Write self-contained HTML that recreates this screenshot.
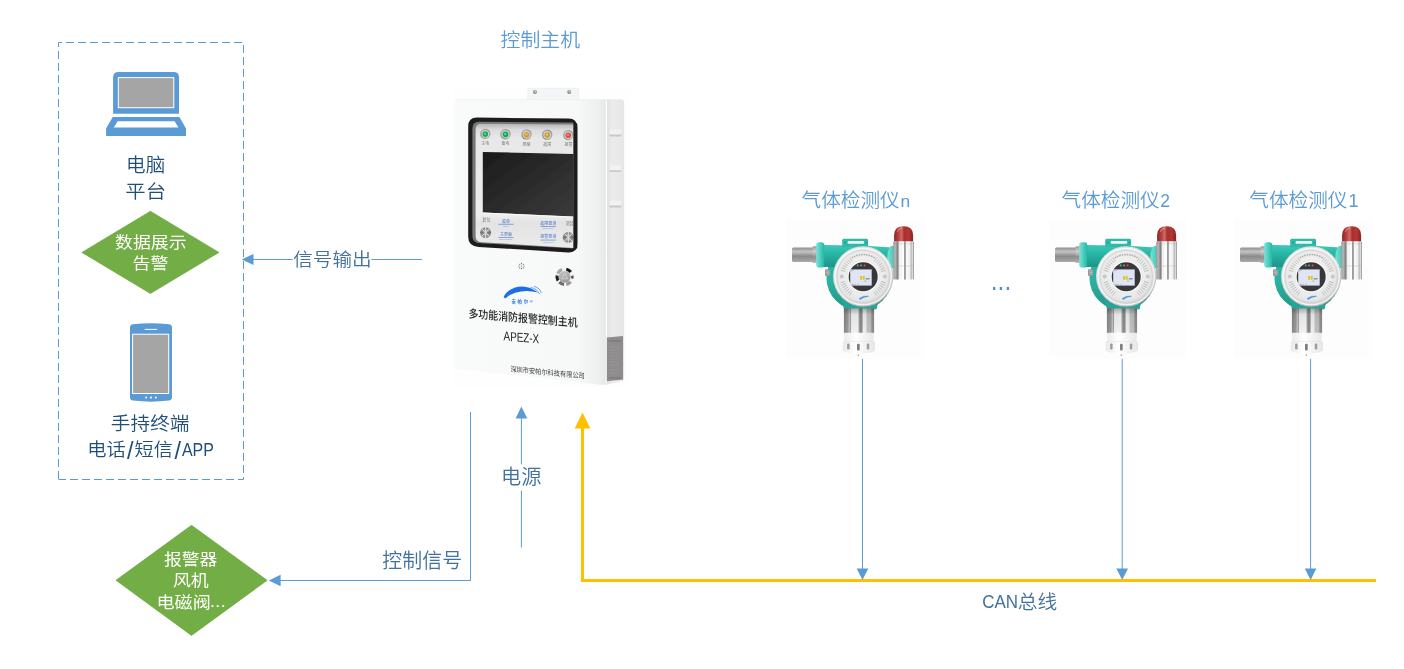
<!DOCTYPE html>
<html lang="zh-CN"><head><meta charset="utf-8"><title>CAN总线气体检测系统拓扑图</title>
<style>html,body{margin:0;padding:0;background:#fff;overflow:hidden}svg{display:block;font-family:"Liberation Sans", "Noto Sans CJK SC", sans-serif;will-change:transform}</style></head><body>
<svg width="1404" height="669" viewBox="0 0 1404 669">
<defs>
<filter id="soft" x="-5%" y="-5%" width="110%" height="110%"><feGaussianBlur stdDeviation="0.45"/></filter>
<filter id="soft2" x="-5%" y="-5%" width="110%" height="110%"><feGaussianBlur stdDeviation="0.4"/></filter>
<filter id="soft3" x="-5%" y="-5%" width="110%" height="110%"><feGaussianBlur stdDeviation="0.3"/></filter>
<linearGradient id="gPanel" x1="0" y1="123.6" x2="0" y2="248" gradientUnits="userSpaceOnUse"><stop offset="0" stop-color="#b4b4b4"/><stop offset="0.05" stop-color="#dcdcdc"/><stop offset="0.12" stop-color="#e8e8e8"/><stop offset="0.74" stop-color="#ececec"/><stop offset="0.8" stop-color="#e3e3e3"/><stop offset="1" stop-color="#ebebeb"/></linearGradient>
<linearGradient id="gLedRing" x1="0" y1="0" x2="1" y2="1"><stop offset="0" stop-color="#b4b4b4"/><stop offset="0.5" stop-color="#8a8a8a"/><stop offset="1" stop-color="#c4c4c4"/></linearGradient>
<linearGradient id="gBtnDisc" x1="0" y1="0" x2="0.4" y2="1"><stop offset="0" stop-color="#c6c6c6"/><stop offset="1" stop-color="#9c9c9c"/></linearGradient>
<linearGradient id="gBtnRing" x1="0" y1="0" x2="1" y2="1"><stop offset="0" stop-color="#f4f4f4"/><stop offset="0.35" stop-color="#bdbdbd"/><stop offset="0.6" stop-color="#efefef"/><stop offset="1" stop-color="#8c8c8c"/></linearGradient>
<linearGradient id="gProbe" x1="0" y1="0" x2="0" y2="1"><stop offset="0" stop-color="#8d8d8d"/><stop offset="0.3" stop-color="#c4c4c4"/><stop offset="0.6" stop-color="#8a8a8a"/><stop offset="1" stop-color="#a9a9a9"/></linearGradient>
<linearGradient id="gProbe2" x1="0" y1="0" x2="0" y2="1"><stop offset="0" stop-color="#9a9a9a"/><stop offset="0.3" stop-color="#cfcfcf"/><stop offset="0.65" stop-color="#8f8f8f"/><stop offset="1" stop-color="#b5b5b5"/></linearGradient>
<linearGradient id="gTealH" x1="0" y1="0" x2="0" y2="1"><stop offset="0" stop-color="#3ccab9"/><stop offset="0.45" stop-color="#27b3a3"/><stop offset="1" stop-color="#1c9588"/></linearGradient>
<linearGradient id="gTealV" x1="0" y1="0" x2="0.3" y2="1"><stop offset="0" stop-color="#2aae9e"/><stop offset="0.5" stop-color="#2cb3a3"/><stop offset="1" stop-color="#1f9487"/></linearGradient>
<linearGradient id="gFl" x1="0" y1="0" x2="1" y2="0"><stop offset="0" stop-color="#7be3d6"/><stop offset="0.5" stop-color="#4dd0c0"/><stop offset="1" stop-color="#2bb3a3"/></linearGradient>
<linearGradient id="gSteel" x1="0" y1="0" x2="1" y2="0"><stop offset="0" stop-color="#9c9c9c"/><stop offset="0.1" stop-color="#b6b6b6"/><stop offset="0.22" stop-color="#7e7e7e"/><stop offset="0.3" stop-color="#f0f0f0"/><stop offset="0.5" stop-color="#ffffff"/><stop offset="0.56" stop-color="#747474"/><stop offset="0.64" stop-color="#f8f8f8"/><stop offset="0.8" stop-color="#f0f0f0"/><stop offset="0.86" stop-color="#b8b8b8"/><stop offset="0.93" stop-color="#dadada"/><stop offset="1" stop-color="#8a8a8a"/></linearGradient>
<linearGradient id="gSteel2" x1="0" y1="0" x2="1" y2="0"><stop offset="0" stop-color="#858585"/><stop offset="0.13" stop-color="#9a9a9a"/><stop offset="0.19" stop-color="#c4c4c4"/><stop offset="0.21" stop-color="#8c8c8c"/><stop offset="0.25" stop-color="#eeeeee"/><stop offset="0.46" stop-color="#f2f2f2"/><stop offset="0.53" stop-color="#888888"/><stop offset="0.6" stop-color="#8e8e8e"/><stop offset="0.64" stop-color="#f0f0f0"/><stop offset="0.72" stop-color="#eaeaea"/><stop offset="0.78" stop-color="#c0c0c0"/><stop offset="0.88" stop-color="#bcbcbc"/><stop offset="0.93" stop-color="#8f8f8f"/><stop offset="1" stop-color="#8a8a8a"/></linearGradient>
<linearGradient id="gShade" x1="0" y1="0" x2="0" y2="1"><stop offset="0" stop-color="#000" stop-opacity="0.28"/><stop offset="0.25" stop-color="#000" stop-opacity="0.05"/><stop offset="1" stop-color="#000" stop-opacity="0"/></linearGradient>
<linearGradient id="gRed" x1="0" y1="0" x2="1" y2="0"><stop offset="0" stop-color="#8e2626"/><stop offset="0.2" stop-color="#b43a38"/><stop offset="0.4" stop-color="#cf6a65"/><stop offset="0.53" stop-color="#a52f2f"/><stop offset="0.75" stop-color="#b53635"/><stop offset="1" stop-color="#8a2222"/></linearGradient>
<linearGradient id="gWhite" x1="0" y1="0" x2="1" y2="0"><stop offset="0" stop-color="#e9e9e9"/><stop offset="0.4" stop-color="#ffffff"/><stop offset="1" stop-color="#e6e6e6"/></linearGradient>
<radialGradient id="gFace" cx="0.48" cy="0.46" r="0.54"><stop offset="0" stop-color="#f6f6f6"/><stop offset="0.6" stop-color="#ededed"/><stop offset="0.8" stop-color="#e6e6e6"/><stop offset="0.9" stop-color="#d6d6d6"/><stop offset="0.97" stop-color="#c4c4c4"/><stop offset="1" stop-color="#b0b0b0"/></radialGradient>
<linearGradient id="gFront" x1="0" y1="0" x2="1" y2="0"><stop offset="0" stop-color="#f9fbfb"/><stop offset="0.8" stop-color="#f7f9f9"/><stop offset="0.93" stop-color="#eff1f1"/><stop offset="0.985" stop-color="#e7e8e8"/><stop offset="1" stop-color="#f4f4f4"/></linearGradient>
<linearGradient id="gSide" x1="0" y1="0" x2="1" y2="0"><stop offset="0" stop-color="#e4e4e4"/><stop offset="0.4" stop-color="#ebebeb"/><stop offset="1" stop-color="#e6e6e6"/></linearGradient>
<linearGradient id="gLcd" x1="0" y1="0" x2="1" y2="1"><stop offset="0" stop-color="#1b1b1b"/><stop offset="0.5" stop-color="#2b2b2b"/><stop offset="1" stop-color="#3b3b3b"/></linearGradient>
<radialGradient id="gKnob" cx="0.5" cy="0.5" r="0.5"><stop offset="0" stop-color="#cfcfcf"/><stop offset="0.5" stop-color="#9a9a9a"/><stop offset="0.85" stop-color="#8a8a8a"/><stop offset="1" stop-color="#bdbdbd"/></radialGradient>
<radialGradient id="gBtn" cx="0.5" cy="0.5" r="0.5"><stop offset="0" stop-color="#d0d0d0"/><stop offset="0.5" stop-color="#a8a8a8"/><stop offset="0.62" stop-color="#3c3c3c"/><stop offset="0.8" stop-color="#e6e6e6"/><stop offset="1" stop-color="#9a9a9a"/></radialGradient>
</defs>
<rect width="1404" height="669" fill="#ffffff"/>
<path d="M58.5 42.5H243.5V479.5H58.5" fill="none" stroke="#5B9BD5" stroke-width="1" stroke-dasharray="8 4" stroke-dashoffset="4.5"/>
<path d="M58.5 42.5V479.5" fill="none" stroke="#5B9BD5" stroke-width="1" stroke-dasharray="8 4" stroke-dashoffset="3.5"/>
<path d="M113.1 113.8V77.4Q113.1 72 118.5 72H173.6Q179 72 179 77.4V113.8Z" fill="#5B9BD5"/>
<rect x="117.8" y="77.1" width="56.5" height="31.1" fill="#ffffff"/>
<rect x="118.8" y="78.1" width="54.5" height="29.1" fill="#A5A5A5"/>
<path d="M112.7 117.1H179.4L186 128.4V135.9H106.1V128.4Z" fill="#5B9BD5"/>
<path d="M117.7 121.3H174.6L178.4 127.6H113.7Z" fill="#ffffff"/>
<path d="M81.9 252.4L150.4 211.3L218.9 252.4L150.4 293.5Z" fill="#72AE45" stroke="#69A63D" stroke-width="0.7" stroke-linejoin="miter"/>
<path d="M116 580.3L191.5 525.3L267.1 580.3L191.5 635.4Z" fill="#72AE45" stroke="#69A63D" stroke-width="0.7" stroke-linejoin="miter"/>
<path d="M130 327.5Q130 324.6 133 324.3Q151 322 169 324.3Q172 324.6 172 327.5V397.3Q172 400.2 169 400.5Q151 402.8 133 400.5Q130 400.2 130 397.3Z" fill="#5B9BD5"/>
<rect x="132.1" y="333.7" width="37.1" height="60.3" fill="#ffffff"/>
<rect x="133.1" y="334.7" width="35.1" height="58.3" fill="#A5A5A5"/>
<rect x="144.7" y="328.9" width="12.4" height="1" fill="#ffffff"/>
<circle cx="146.1" cy="397.5" r="1" fill="#ffffff"/>
<circle cx="151" cy="397.5" r="1" fill="#ffffff"/>
<circle cx="155.8" cy="397.5" r="1" fill="#ffffff"/>
<path d="M253 259.5H292.7M371.5 259.5H422" stroke="#5B9BD5" stroke-width="1" fill="none"/>
<path d="M241.7 259.5L253.5 253.9V265.1Z" fill="#5B9BD5"/>
<path d="M470.5 412V580.5H280" stroke="#5B9BD5" stroke-width="1" fill="none"/>
<path d="M268.8 580.5L280.6 574.8V586.2Z" fill="#5B9BD5"/>
<path d="M521.4 418V464.4M521.4 490.5V547.6" stroke="#5B9BD5" stroke-width="1" fill="none"/>
<path d="M521.4 406.6L527.3 418.4H515.6Z" fill="#5B9BD5"/>
<path d="M582.5 428V580.4H1376" stroke="#FFC000" stroke-width="3" fill="none"/>
<path d="M582.5 412.6L590.4 428.4H574.7Z" fill="#FFC000"/>
<path d="M862.5 358.8V569" stroke="#5B9BD5" stroke-width="1" fill="none"/>
<path d="M862.5 580L856.7 568.4H868.3Z" fill="#5B9BD5"/>
<path d="M1122.2 358.8V569" stroke="#5B9BD5" stroke-width="1" fill="none"/>
<path d="M1122.2 580L1116.4 568.4H1128.0Z" fill="#5B9BD5"/>
<path d="M1310.6 358.8V569" stroke="#5B9BD5" stroke-width="1" fill="none"/>
<path d="M1310.6 580L1304.8 568.4H1316.3999999999999Z" fill="#5B9BD5"/>
<rect x="452.5" y="87" width="178" height="300" fill="#FEFEFE"/>
<g filter="url(#soft2)">
<path d="M527.8 99.6V89.6Q527.8 88.3 529.2 88.3H577.2Q578.6 88.3 578.6 89.6V99.6Z" fill="#F3F5F6" stroke="#E3E5E6" stroke-width="0.5"/>
<circle cx="535" cy="91.9" r="2" fill="#8d8d8d"/><circle cx="535.4" cy="91.5" r="0.9" fill="#d8d8d8"/>
<circle cx="569.2" cy="91.9" r="2" fill="#8d8d8d"/><circle cx="569.6" cy="91.5" r="0.9" fill="#d8d8d8"/>
<path d="M606 99.4H621.5Q624.2 99.4 624.2 102V378.6Q624.2 381 621.6 381.3L606 384.8Z" fill="url(#gSide)"/>
<path d="M457 99.4H604Q607 99.4 607 102.4V381Q607 385.4 602.5 385L457.5 369Q454.4 368.6 454.4 365.6V102.4Q454.4 99.4 457 99.4Z" fill="url(#gFront)"/>
<path d="M606.6 101V382" stroke="#ffffff" stroke-width="1"/>
<path d="M608 100.5V383" stroke="#dedede" stroke-width="0.8"/>
<path d="M457 99.6H622" stroke="#eeeeee" stroke-width="0.7"/>
<rect x="609.3" y="130.8" width="12" height="5.6" rx="1.2" fill="#c9c9c9"/>
<path d="M610.6 129.8H620Q621.3 129.8 621.3 131.2V134.6H609.3V131.2Z" fill="#f2f2f2"/>
<rect x="609.3" y="166.4" width="12" height="5.6" rx="1.2" fill="#c9c9c9"/>
<path d="M610.6 165.4H620Q621.3 165.4 621.3 166.79999999999998V170.2H609.3V166.79999999999998Z" fill="#f2f2f2"/>
<rect x="609.3" y="201.8" width="12" height="5.6" rx="1.2" fill="#c9c9c9"/>
<path d="M610.6 200.8H620Q621.3 200.8 621.3 202.2V205.6H609.3V202.2Z" fill="#f2f2f2"/>
<path d="M606.8 337.4L623 336V379.6L606.8 381.2Z" fill="#8f8c8d"/>
<path d="M608.6 341H621.4M608.6 378H621.4" stroke="#6f6c6d" stroke-width="0.8"/>
<path d="M609.5 347H620M609.5 350H620M609.5 353H618M609.5 356H620M609.5 359H617M609.5 362H620M609.5 365H619M609.5 370H620M609.5 373H618" stroke="#a09d9e" stroke-width="0.6" opacity="0.8"/>
<path d="M468.2 126.5Q468.2 117.5 477.2 117.6L568.4 118.6Q577.3 118.7 577.3 127.6V243.8Q577.3 253 568.2 252.4L478.6 246.9Q468.2 246.3 468.2 236.8Z" fill="#1b1b1b"/>
<path d="M472.4 128.2Q472.4 121.6 479 121.7L573.6 122.6V248.6L480 243.2Q472.4 242.8 472.4 236.4Z" fill="#777777"/>
<path d="M475.6 129.4Q475.6 123.6 481.4 123.7L573.6 124.6V248L481.6 242.2Q475.6 241.8 475.6 236Z" fill="url(#gPanel)"/>
<path d="M482.8 151.9L573.6 154V216.6L482.8 212.4Z" fill="url(#gLcd)"/>
<path d="M482.8 213L573.6 217.2" stroke="#fafafa" stroke-width="1"/>
<circle cx="485.3" cy="133.9" r="5.2" fill="url(#gLedRing)"/>
<circle cx="485.3" cy="133.9" r="3.9" fill="#d2d2d2"/>
<circle cx="485.3" cy="134.1" r="2.8" fill="#12a856"/>
<circle cx="485.0" cy="133.70000000000002" r="1.3" fill="#3fe08a"/>
<circle cx="505.5" cy="134.2" r="5.2" fill="url(#gLedRing)"/>
<circle cx="505.5" cy="134.2" r="3.9" fill="#d2d2d2"/>
<circle cx="505.5" cy="134.39999999999998" r="2.8" fill="#12a856"/>
<circle cx="505.2" cy="134.0" r="1.3" fill="#3fe08a"/>
<circle cx="526.5" cy="134.5" r="5.2" fill="url(#gLedRing)"/>
<circle cx="526.5" cy="134.5" r="3.9" fill="#d2d2d2"/>
<circle cx="526.5" cy="134.7" r="2.8" fill="#cf9a2c"/>
<circle cx="526.2" cy="134.3" r="1.3" fill="#e8c25a"/>
<circle cx="547.2" cy="134.8" r="5.2" fill="url(#gLedRing)"/>
<circle cx="547.2" cy="134.8" r="3.9" fill="#d2d2d2"/>
<circle cx="547.2" cy="135.0" r="2.8" fill="#cf9a2c"/>
<circle cx="546.9000000000001" cy="134.60000000000002" r="1.3" fill="#e8c25a"/>
<circle cx="568.3" cy="135.1" r="5.2" fill="url(#gLedRing)"/>
<circle cx="568.3" cy="135.1" r="3.9" fill="#d2d2d2"/>
<circle cx="568.3" cy="135.29999999999998" r="2.8" fill="#e04a47"/>
<circle cx="568.0" cy="134.9" r="1.3" fill="#f07a74"/>
<circle cx="485.6" cy="232.6" r="6.4" fill="#e9e9e9"/>
<circle cx="485.6" cy="232.6" r="5.7" fill="url(#gKnob)"/>
<path d="M481.6 228.6L489.6 236.6M489.6 228.6L481.6 236.6M485.6 227.2V238.0" stroke="#f4f4f4" stroke-width="1" opacity="0.8"/>
<path d="M480.20000000000005 232.6H491.0" stroke="#555" stroke-width="1.6" opacity="0.55"/>
<circle cx="485.6" cy="232.6" r="1.2" fill="#dcdcdc"/>
<circle cx="568.3" cy="237.4" r="6.4" fill="#e9e9e9"/>
<circle cx="568.3" cy="237.4" r="5.7" fill="url(#gKnob)"/>
<path d="M564.3 233.4L572.3 241.4M572.3 233.4L564.3 241.4M568.3 232.0V242.8" stroke="#f4f4f4" stroke-width="1" opacity="0.8"/>
<path d="M562.9 237.4H573.6999999999999" stroke="#555" stroke-width="1.6" opacity="0.55"/>
<circle cx="568.3" cy="237.4" r="1.2" fill="#dcdcdc"/>
<path d="M498.5 224.3H513.6M498.5 237.5H513.6M540.6 226.5H555.8M540.6 240.1H555.8" stroke="#4a76c4" stroke-width="0.6"/>
<circle cx="521.5" cy="266.1" r="0.65" fill="#777777"/>
<circle cx="521.5" cy="263.5" r="0.65" fill="#777777"/>
<circle cx="521.5" cy="268.7" r="0.65" fill="#777777"/>
<circle cx="518.9" cy="266.1" r="0.65" fill="#777777"/>
<circle cx="524.1" cy="266.1" r="0.65" fill="#777777"/>
<circle cx="519.7" cy="264.3" r="0.65" fill="#777777"/>
<circle cx="523.3" cy="264.3" r="0.65" fill="#777777"/>
<circle cx="519.7" cy="267.9" r="0.65" fill="#777777"/>
<circle cx="523.3" cy="267.9" r="0.65" fill="#777777"/>
<circle cx="564.7" cy="276.8" r="9.3" fill="#f3f3f3"/>
<path d="M566.30 269.27A7.7 7.7 0 0 1 570.77 272.06" stroke="#141414" stroke-width="3.2" fill="none" opacity="1"/>
<path d="M572.33 275.73A7.7 7.7 0 0 1 572.23 278.40" stroke="#4a4a4a" stroke-width="2.4" fill="none" opacity="1"/>
<path d="M558.03 280.65A7.7 7.7 0 0 1 557.12 275.46" stroke="#242424" stroke-width="3.2" fill="none" opacity="1"/>
<path d="M564.03 284.47A7.7 7.7 0 0 1 559.26 282.24" stroke="#6e6e6e" stroke-width="3.2" fill="none" opacity="1"/>
<path d="M570.60 281.75A7.7 7.7 0 0 1 566.30 284.33" stroke="#9a9a9a" stroke-width="3.2" fill="none" opacity="1"/>
<path d="M557.72 273.55A7.7 7.7 0 0 1 562.07 269.56" stroke="#a6a6a6" stroke-width="3.2" fill="none" opacity="1"/>
<circle cx="564.7" cy="276.8" r="5.9" fill="url(#gBtnDisc)"/>
<path d="M564.7 273.40000000000003L567.7 278.8H561.7Z" fill="none" stroke="#d9d9d9" stroke-width="0.8"/>
<path d="M503.6 297.2Q506.5 290.6 515 287.6Q527 283.8 538 292.6Q526 289.6 516 292.6Q509 294.8 505.4 298.4Z" fill="#1f6fe6"/>
<path d="M530.6 287.4Q537.4 288.8 539.4 294M534 286.2Q540.4 288.2 541.2 293" stroke="#3f86ee" stroke-width="0.8" fill="none"/>
</g>
<g filter="url(#soft3)">
<text x="485.3" y="145.1" font-size="4" text-anchor="middle" fill="#7d7d7d">主电</text>
<text x="505.5" y="145.4" font-size="4" text-anchor="middle" fill="#7d7d7d">备电</text>
<text x="526.5" y="145.7" font-size="4" text-anchor="middle" fill="#7d7d7d">屏蔽</text>
<text x="547.2" y="146.0" font-size="4" text-anchor="middle" fill="#7d7d7d">故障</text>
<text x="564.6" y="146.4" font-size="4" fill="#7d7d7d">报警</text>
<text x="486.4" y="220.8" font-size="4.2" text-anchor="middle" fill="#7d7d7d">复位</text>
<text x="565.4" y="225.3" font-size="4.2" fill="#7d7d7d">消音</text>
<text x="505.9" y="222.6" font-size="4" text-anchor="middle" fill="#4a76c4">菜单</text>
<text x="505.9" y="235.8" font-size="4" text-anchor="middle" fill="#4a76c4">主界面</text>
<text x="548.2" y="224.9" font-size="4" text-anchor="middle" fill="#4a76c4">故障查询</text>
<text x="548.2" y="238.4" font-size="4" text-anchor="middle" fill="#4a76c4">报警查询</text>
<g font-size="2.2" fill="#6f8fc8" text-anchor="middle"><text x="505.9" y="227.2">Menu</text><text x="505.9" y="240.4">Main interface</text><text x="548.2" y="229.4">Fault query</text><text x="548.2" y="243">Alarm query</text></g>
<text x="511.4" y="303.1" font-size="4.4" fill="#2a76e8" font-weight="700" textLength="21.6" lengthAdjust="spacing">安帕尔®</text>
</g>
<path d="M573.5 121V250.4L577.3 248V124Z" fill="#1b1b1b" filter="url(#soft2)"/>
<g filter="url(#soft3)" fill="#262626" font-weight="500">
<text id="t_dev1" transform="translate(468.4,317.4) skewY(4.9)" font-size="11.3" textLength="109.2" lengthAdjust="spacingAndGlyphs">多功能消防报警控制主机</text>
<text id="t_dev2" transform="translate(503.6,340.3) skewY(5)" font-size="13" textLength="35.6" lengthAdjust="spacingAndGlyphs">APEZ-X</text>
<text id="t_dev3" transform="translate(510.4,371.4) skewY(5.5)" font-size="7.2" fill="#3a3a3a" font-weight="400" textLength="74.4" lengthAdjust="spacingAndGlyphs">深圳市安帕尔科技有限公司</text>
</g>
<g transform="translate(0,0)">
<rect x="786" y="218.5" width="137.5" height="140" fill="#FDFDFD"/>
<g filter="url(#soft)">
<rect x="792" y="247.4" width="22.5" height="14.6" rx="1.5" fill="url(#gProbe)"/>
<rect x="812.6" y="246.3" width="5" height="16.6" fill="url(#gProbe2)"/>
<circle cx="859.2" cy="277.6" r="32.8" fill="url(#gTealV)"/>
<path d="M841.2 298H878.6L876.6 309.2H844Z" fill="#26a596"/>
<path d="M822 245 L860 245.6 L893 247.6 L893 266 L822 267 Z" fill="url(#gTealH)"/>
<path d="M842.2 247 V240.3 Q842.2 238.8 843.7 238.8 H866.6 Q868.1 238.8 868.1 240.3 V247 Z" fill="#2db9a8"/>
<rect x="847.6" y="241" width="16.6" height="2.7" rx="1.2" fill="#eef8f6"/>
<circle cx="845" cy="242.4" r="0.7" fill="#1a7f74"/><circle cx="866.2" cy="242.6" r="0.7" fill="#1a7f74"/>
<rect x="816.2" y="242.2" width="8" height="25.4" rx="2.8" fill="url(#gFl)"/>
<ellipse cx="892.4" cy="257.2" rx="5.1" ry="11.4" fill="url(#gFl)"/>
<rect x="825" y="269.4" width="5.2" height="6.4" fill="#8f9a98"/>
<path d="M826 271H829.4M826 272.6H829.4M826 274.2H829.4" stroke="#c9d2d0" stroke-width="0.6"/>
<rect x="893.2" y="241.2" width="20.8" height="38.2" rx="1" fill="url(#gSteel)"/>
<path d="M893.6 243.8H914M893.6 266H914" stroke="#9a9a9a" stroke-width="0.5" opacity="0.6"/>
<path d="M894.1 241.2 V235 Q894.1 226.2 903.6 226.2 Q913.1 226.2 913.1 235 V241.2 Z" fill="url(#gRed)"/>
<path d="M897.4 231.4Q898.6 228.6 901.6 228" stroke="#f3a9a4" stroke-width="1" fill="none" stroke-linecap="round" opacity="0.8"/>
<rect x="843.9" y="308.6" width="30.2" height="24.5" fill="url(#gSteel2)"/>
<rect x="843.9" y="308.6" width="30.2" height="24.5" fill="url(#gShade)"/>
<path d="M844.2 332.8 H873.6 V341 L875 342 V350.4 Q870 353.6 858.9 353.6 Q847.4 353.6 842.7 350.4 V342 L844.2 341 Z" fill="url(#gWhite)"/>
<path d="M843.4 341.6H874.4" stroke="#e2e2e2" stroke-width="0.6"/>
<rect x="847.1" y="343.4" width="2.5" height="6.2" rx="1" fill="#9c9c9c"/>
<rect x="857" y="343.8" width="2.7" height="6.8" rx="1" fill="#7e7e7e"/>
<rect x="866.8" y="343.4" width="2.5" height="6.2" rx="1" fill="#9c9c9c"/>
<circle cx="858.4" cy="355.2" r="0.9" fill="#b5b5b5"/>
<circle cx="863.2" cy="276.5" r="30.2" fill="url(#gFace)"/>
<circle cx="863.2" cy="276.5" r="28.2" fill="none" stroke="#ffffff" stroke-width="1.3" opacity="0.75"/>
<circle cx="863.2" cy="276.5" r="26.2" fill="none" stroke="#cfcfcf" stroke-width="0.8"/>
<path d="M881.1 281.5L885.6 282.7M880.4 283.5L884.7 285.2M879.5 285.4L883.6 287.6M878.4 287.2L882.2 289.8M877.1 288.8L880.6 291.9M875.6 290.3L878.7 293.7M874.0 291.6L876.7 295.4M852.4 291.6L849.7 295.4M850.8 290.3L847.7 293.7M849.3 288.8L845.8 291.9M848.0 287.2L844.2 289.8M846.9 285.4L842.8 287.6M846.0 283.5L841.7 285.2M845.3 281.5L840.8 282.7M845.3 271.5L840.8 270.3M846.0 269.5L841.7 267.8M846.9 267.6L842.8 265.4M848.0 265.8L844.2 263.2M849.3 264.2L845.8 261.1M850.8 262.7L847.7 259.3M852.4 261.4L849.7 257.6M874.0 261.4L876.7 257.6M875.6 262.7L878.7 259.3M877.1 264.2L880.6 261.1M878.4 265.8L882.2 263.2M879.5 267.6L883.6 265.4M880.4 269.5L884.7 267.8M881.1 271.5L885.6 270.3" stroke="#8f8f8f" stroke-width="0.9" opacity="0.55"/>
<path d="M851.7 257.9A21.8 21.8 0 0 1 874.7 257.9" stroke="#6f6f6f" stroke-width="1.5" stroke-dasharray="1.6 0.9" fill="none" opacity="0.5"/>
<circle cx="841.8000000000001" cy="276.5" r="1.5" fill="#d4d4d4" stroke="#9f9f9f" stroke-width="0.5"/>
<circle cx="884.8000000000001" cy="276.5" r="1.5" fill="#d4d4d4" stroke="#9f9f9f" stroke-width="0.5"/>
<circle cx="863.2" cy="276.7" r="16.4" fill="#fafafa" stroke="#dadada" stroke-width="0.5"/>
<circle cx="863.2" cy="276.8" r="14.5" fill="#37373a"/>
<rect x="850.2" y="269.4" width="21.5" height="16.2" fill="#dfe5f5"/>
<path d="M850.8 270.6H854M851 284.4H856M857.4 284.4H859" stroke="#9aa3b8" stroke-width="0.6"/>
<rect x="860" y="275.8" width="2.1" height="4" rx="0.9" fill="#e3c62a"/><rect x="862.7" y="275.8" width="2.1" height="4" rx="0.9" fill="#e3c62a"/>
<rect x="865.8" y="278" width="3.8" height="1.5" fill="#8d93a1"/>
<rect x="864" y="280.6" width="2.4" height="1" fill="#8fd19a"/>
<circle cx="857.7" cy="265.4" r="1.05" fill="#1fc36a"/>
<circle cx="861.1" cy="265.4" r="0.9" fill="#a5a5a5"/>
<circle cx="864.6" cy="265.4" r="1.05" fill="#e8403a"/>
<path d="M859.2 298.6 Q863 295.4 868.4 296.2 Q863.6 296.8 860.2 299.4Z" fill="#4a96e6" stroke="#4a96e6" stroke-width="0.7" stroke-linejoin="round"/>
</g></g>
<g transform="translate(263,0)">
<rect x="786" y="218.5" width="137.5" height="140" fill="#FDFDFD"/>
<g filter="url(#soft)">
<rect x="792" y="247.4" width="22.5" height="14.6" rx="1.5" fill="url(#gProbe)"/>
<rect x="812.6" y="246.3" width="5" height="16.6" fill="url(#gProbe2)"/>
<circle cx="859.2" cy="277.6" r="32.8" fill="url(#gTealV)"/>
<path d="M841.2 298H878.6L876.6 309.2H844Z" fill="#26a596"/>
<path d="M822 245 L860 245.6 L893 247.6 L893 266 L822 267 Z" fill="url(#gTealH)"/>
<path d="M842.2 247 V240.3 Q842.2 238.8 843.7 238.8 H866.6 Q868.1 238.8 868.1 240.3 V247 Z" fill="#2db9a8"/>
<rect x="847.6" y="241" width="16.6" height="2.7" rx="1.2" fill="#eef8f6"/>
<circle cx="845" cy="242.4" r="0.7" fill="#1a7f74"/><circle cx="866.2" cy="242.6" r="0.7" fill="#1a7f74"/>
<rect x="816.2" y="242.2" width="8" height="25.4" rx="2.8" fill="url(#gFl)"/>
<ellipse cx="892.4" cy="257.2" rx="5.1" ry="11.4" fill="url(#gFl)"/>
<rect x="825" y="269.4" width="5.2" height="6.4" fill="#8f9a98"/>
<path d="M826 271H829.4M826 272.6H829.4M826 274.2H829.4" stroke="#c9d2d0" stroke-width="0.6"/>
<rect x="893.2" y="241.2" width="20.8" height="38.2" rx="1" fill="url(#gSteel)"/>
<path d="M893.6 243.8H914M893.6 266H914" stroke="#9a9a9a" stroke-width="0.5" opacity="0.6"/>
<path d="M894.1 241.2 V235 Q894.1 226.2 903.6 226.2 Q913.1 226.2 913.1 235 V241.2 Z" fill="url(#gRed)"/>
<path d="M897.4 231.4Q898.6 228.6 901.6 228" stroke="#f3a9a4" stroke-width="1" fill="none" stroke-linecap="round" opacity="0.8"/>
<rect x="843.9" y="308.6" width="30.2" height="24.5" fill="url(#gSteel2)"/>
<rect x="843.9" y="308.6" width="30.2" height="24.5" fill="url(#gShade)"/>
<path d="M844.2 332.8 H873.6 V341 L875 342 V350.4 Q870 353.6 858.9 353.6 Q847.4 353.6 842.7 350.4 V342 L844.2 341 Z" fill="url(#gWhite)"/>
<path d="M843.4 341.6H874.4" stroke="#e2e2e2" stroke-width="0.6"/>
<rect x="847.1" y="343.4" width="2.5" height="6.2" rx="1" fill="#9c9c9c"/>
<rect x="857" y="343.8" width="2.7" height="6.8" rx="1" fill="#7e7e7e"/>
<rect x="866.8" y="343.4" width="2.5" height="6.2" rx="1" fill="#9c9c9c"/>
<circle cx="858.4" cy="355.2" r="0.9" fill="#b5b5b5"/>
<circle cx="863.2" cy="276.5" r="30.2" fill="url(#gFace)"/>
<circle cx="863.2" cy="276.5" r="28.2" fill="none" stroke="#ffffff" stroke-width="1.3" opacity="0.75"/>
<circle cx="863.2" cy="276.5" r="26.2" fill="none" stroke="#cfcfcf" stroke-width="0.8"/>
<path d="M881.1 281.5L885.6 282.7M880.4 283.5L884.7 285.2M879.5 285.4L883.6 287.6M878.4 287.2L882.2 289.8M877.1 288.8L880.6 291.9M875.6 290.3L878.7 293.7M874.0 291.6L876.7 295.4M852.4 291.6L849.7 295.4M850.8 290.3L847.7 293.7M849.3 288.8L845.8 291.9M848.0 287.2L844.2 289.8M846.9 285.4L842.8 287.6M846.0 283.5L841.7 285.2M845.3 281.5L840.8 282.7M845.3 271.5L840.8 270.3M846.0 269.5L841.7 267.8M846.9 267.6L842.8 265.4M848.0 265.8L844.2 263.2M849.3 264.2L845.8 261.1M850.8 262.7L847.7 259.3M852.4 261.4L849.7 257.6M874.0 261.4L876.7 257.6M875.6 262.7L878.7 259.3M877.1 264.2L880.6 261.1M878.4 265.8L882.2 263.2M879.5 267.6L883.6 265.4M880.4 269.5L884.7 267.8M881.1 271.5L885.6 270.3" stroke="#8f8f8f" stroke-width="0.9" opacity="0.55"/>
<path d="M851.7 257.9A21.8 21.8 0 0 1 874.7 257.9" stroke="#6f6f6f" stroke-width="1.5" stroke-dasharray="1.6 0.9" fill="none" opacity="0.5"/>
<circle cx="841.8000000000001" cy="276.5" r="1.5" fill="#d4d4d4" stroke="#9f9f9f" stroke-width="0.5"/>
<circle cx="884.8000000000001" cy="276.5" r="1.5" fill="#d4d4d4" stroke="#9f9f9f" stroke-width="0.5"/>
<circle cx="863.2" cy="276.7" r="16.4" fill="#fafafa" stroke="#dadada" stroke-width="0.5"/>
<circle cx="863.2" cy="276.8" r="14.5" fill="#37373a"/>
<rect x="850.2" y="269.4" width="21.5" height="16.2" fill="#dfe5f5"/>
<path d="M850.8 270.6H854M851 284.4H856M857.4 284.4H859" stroke="#9aa3b8" stroke-width="0.6"/>
<rect x="860" y="275.8" width="2.1" height="4" rx="0.9" fill="#e3c62a"/><rect x="862.7" y="275.8" width="2.1" height="4" rx="0.9" fill="#e3c62a"/>
<rect x="865.8" y="278" width="3.8" height="1.5" fill="#8d93a1"/>
<rect x="864" y="280.6" width="2.4" height="1" fill="#8fd19a"/>
<circle cx="857.7" cy="265.4" r="1.05" fill="#1fc36a"/>
<circle cx="861.1" cy="265.4" r="0.9" fill="#a5a5a5"/>
<circle cx="864.6" cy="265.4" r="1.05" fill="#e8403a"/>
<path d="M859.2 298.6 Q863 295.4 868.4 296.2 Q863.6 296.8 860.2 299.4Z" fill="#4a96e6" stroke="#4a96e6" stroke-width="0.7" stroke-linejoin="round"/>
</g></g>
<g transform="translate(448,0)">
<rect x="786" y="218.5" width="137.5" height="140" fill="#FDFDFD"/>
<g filter="url(#soft)">
<rect x="792" y="247.4" width="22.5" height="14.6" rx="1.5" fill="url(#gProbe)"/>
<rect x="812.6" y="246.3" width="5" height="16.6" fill="url(#gProbe2)"/>
<circle cx="859.2" cy="277.6" r="32.8" fill="url(#gTealV)"/>
<path d="M841.2 298H878.6L876.6 309.2H844Z" fill="#26a596"/>
<path d="M822 245 L860 245.6 L893 247.6 L893 266 L822 267 Z" fill="url(#gTealH)"/>
<path d="M842.2 247 V240.3 Q842.2 238.8 843.7 238.8 H866.6 Q868.1 238.8 868.1 240.3 V247 Z" fill="#2db9a8"/>
<rect x="847.6" y="241" width="16.6" height="2.7" rx="1.2" fill="#eef8f6"/>
<circle cx="845" cy="242.4" r="0.7" fill="#1a7f74"/><circle cx="866.2" cy="242.6" r="0.7" fill="#1a7f74"/>
<rect x="816.2" y="242.2" width="8" height="25.4" rx="2.8" fill="url(#gFl)"/>
<ellipse cx="892.4" cy="257.2" rx="5.1" ry="11.4" fill="url(#gFl)"/>
<rect x="825" y="269.4" width="5.2" height="6.4" fill="#8f9a98"/>
<path d="M826 271H829.4M826 272.6H829.4M826 274.2H829.4" stroke="#c9d2d0" stroke-width="0.6"/>
<rect x="893.2" y="241.2" width="20.8" height="38.2" rx="1" fill="url(#gSteel)"/>
<path d="M893.6 243.8H914M893.6 266H914" stroke="#9a9a9a" stroke-width="0.5" opacity="0.6"/>
<path d="M894.1 241.2 V235 Q894.1 226.2 903.6 226.2 Q913.1 226.2 913.1 235 V241.2 Z" fill="url(#gRed)"/>
<path d="M897.4 231.4Q898.6 228.6 901.6 228" stroke="#f3a9a4" stroke-width="1" fill="none" stroke-linecap="round" opacity="0.8"/>
<rect x="843.9" y="308.6" width="30.2" height="24.5" fill="url(#gSteel2)"/>
<rect x="843.9" y="308.6" width="30.2" height="24.5" fill="url(#gShade)"/>
<path d="M844.2 332.8 H873.6 V341 L875 342 V350.4 Q870 353.6 858.9 353.6 Q847.4 353.6 842.7 350.4 V342 L844.2 341 Z" fill="url(#gWhite)"/>
<path d="M843.4 341.6H874.4" stroke="#e2e2e2" stroke-width="0.6"/>
<rect x="847.1" y="343.4" width="2.5" height="6.2" rx="1" fill="#9c9c9c"/>
<rect x="857" y="343.8" width="2.7" height="6.8" rx="1" fill="#7e7e7e"/>
<rect x="866.8" y="343.4" width="2.5" height="6.2" rx="1" fill="#9c9c9c"/>
<circle cx="858.4" cy="355.2" r="0.9" fill="#b5b5b5"/>
<circle cx="863.2" cy="276.5" r="30.2" fill="url(#gFace)"/>
<circle cx="863.2" cy="276.5" r="28.2" fill="none" stroke="#ffffff" stroke-width="1.3" opacity="0.75"/>
<circle cx="863.2" cy="276.5" r="26.2" fill="none" stroke="#cfcfcf" stroke-width="0.8"/>
<path d="M881.1 281.5L885.6 282.7M880.4 283.5L884.7 285.2M879.5 285.4L883.6 287.6M878.4 287.2L882.2 289.8M877.1 288.8L880.6 291.9M875.6 290.3L878.7 293.7M874.0 291.6L876.7 295.4M852.4 291.6L849.7 295.4M850.8 290.3L847.7 293.7M849.3 288.8L845.8 291.9M848.0 287.2L844.2 289.8M846.9 285.4L842.8 287.6M846.0 283.5L841.7 285.2M845.3 281.5L840.8 282.7M845.3 271.5L840.8 270.3M846.0 269.5L841.7 267.8M846.9 267.6L842.8 265.4M848.0 265.8L844.2 263.2M849.3 264.2L845.8 261.1M850.8 262.7L847.7 259.3M852.4 261.4L849.7 257.6M874.0 261.4L876.7 257.6M875.6 262.7L878.7 259.3M877.1 264.2L880.6 261.1M878.4 265.8L882.2 263.2M879.5 267.6L883.6 265.4M880.4 269.5L884.7 267.8M881.1 271.5L885.6 270.3" stroke="#8f8f8f" stroke-width="0.9" opacity="0.55"/>
<path d="M851.7 257.9A21.8 21.8 0 0 1 874.7 257.9" stroke="#6f6f6f" stroke-width="1.5" stroke-dasharray="1.6 0.9" fill="none" opacity="0.5"/>
<circle cx="841.8000000000001" cy="276.5" r="1.5" fill="#d4d4d4" stroke="#9f9f9f" stroke-width="0.5"/>
<circle cx="884.8000000000001" cy="276.5" r="1.5" fill="#d4d4d4" stroke="#9f9f9f" stroke-width="0.5"/>
<circle cx="863.2" cy="276.7" r="16.4" fill="#fafafa" stroke="#dadada" stroke-width="0.5"/>
<circle cx="863.2" cy="276.8" r="14.5" fill="#37373a"/>
<rect x="850.2" y="269.4" width="21.5" height="16.2" fill="#dfe5f5"/>
<path d="M850.8 270.6H854M851 284.4H856M857.4 284.4H859" stroke="#9aa3b8" stroke-width="0.6"/>
<rect x="860" y="275.8" width="2.1" height="4" rx="0.9" fill="#e3c62a"/><rect x="862.7" y="275.8" width="2.1" height="4" rx="0.9" fill="#e3c62a"/>
<rect x="865.8" y="278" width="3.8" height="1.5" fill="#8d93a1"/>
<rect x="864" y="280.6" width="2.4" height="1" fill="#8fd19a"/>
<circle cx="857.7" cy="265.4" r="1.05" fill="#1fc36a"/>
<circle cx="861.1" cy="265.4" r="0.9" fill="#a5a5a5"/>
<circle cx="864.6" cy="265.4" r="1.05" fill="#e8403a"/>
<path d="M859.2 298.6 Q863 295.4 868.4 296.2 Q863.6 296.8 860.2 299.4Z" fill="#4a96e6" stroke="#4a96e6" stroke-width="0.7" stroke-linejoin="round"/>
</g></g>
<text id="t_host" font-weight="350" fill="#5B9BD5"><tspan x="500.52" y="46.77" font-size="18.95" textLength="79.60" lengthAdjust="spacingAndGlyphs">控制主机</tspan></text>
<text id="t_pc1" font-weight="350" fill="#1F4E79"><tspan x="126.14" y="172.06" font-size="18.98" textLength="39.17" lengthAdjust="spacingAndGlyphs">电脑</tspan></text>
<text id="t_pc2" font-weight="350" fill="#1F4E79"><tspan x="125.39" y="197.66" font-size="18.59" textLength="40.70" lengthAdjust="spacingAndGlyphs">平台</tspan></text>
<text id="t_d1a" font-weight="400" fill="#FFFFFF"><tspan x="115.10" y="247.87" font-size="16.03" textLength="71.43" lengthAdjust="spacingAndGlyphs">数据展示</tspan></text>
<text id="t_d1b" font-weight="400" fill="#FFFFFF"><tspan x="132.53" y="268.78" font-size="15.91" textLength="35.97" lengthAdjust="spacingAndGlyphs">告警</tspan></text>
<text id="t_sig" font-weight="350" fill="#41719C"><tspan x="293.29" y="265.97" font-size="18.16" textLength="78.27" lengthAdjust="spacingAndGlyphs">信号输出</tspan></text>
<text id="t_ph1" font-weight="350" fill="#1F4E79"><tspan x="110.89" y="430.01" font-size="18.51" textLength="78.55" lengthAdjust="spacingAndGlyphs">手持终端</tspan></text>
<text id="t_ph2" font-weight="350" fill="#1F4E79"><tspan x="87.21" y="455.63" font-size="18.27" textLength="38.58" lengthAdjust="spacingAndGlyphs">电话</tspan><tspan x="127.04" y="459.29" font-size="23.37">/</tspan><tspan x="134.62" y="456.19" font-size="17.89" textLength="38.17" lengthAdjust="spacingAndGlyphs">短信</tspan><tspan x="174.60" y="459.26" font-size="23.37">/</tspan><tspan x="181.96" y="455.77" font-size="17.52" textLength="31.99" lengthAdjust="spacingAndGlyphs">APP</tspan></text>
<text id="t_pwr" font-weight="350" fill="#41719C"><tspan x="501.05" y="484.14" font-size="20.49" textLength="40.44" lengthAdjust="spacingAndGlyphs">电源</tspan></text>
<text id="t_ctl" font-weight="350" fill="#41719C"><tspan x="382.37" y="567.89" font-size="20.44" textLength="79.74" lengthAdjust="spacingAndGlyphs">控制信号</tspan></text>
<text id="t_d2a" font-weight="400" fill="#FFFFFF"><tspan x="164.07" y="564.97" font-size="16.22" textLength="53.24" lengthAdjust="spacingAndGlyphs">报警器</tspan></text>
<text id="t_d2b" font-weight="400" fill="#FFFFFF"><tspan x="172.98" y="585.51" font-size="16.12" textLength="35.78" lengthAdjust="spacingAndGlyphs">风机</tspan></text>
<text id="t_d2c" font-weight="400" fill="#FFFFFF"><tspan x="156.53" y="607.75" font-size="16.18" textLength="54.30" lengthAdjust="spacingAndGlyphs">电磁阀</tspan><tspan x="209.76" y="607.43" font-size="17.30" textLength="16.02" lengthAdjust="spacingAndGlyphs">...</tspan></text>
<text id="t_gn" font-weight="350" fill="#5B9BD5"><tspan x="801.54" y="206.70" font-size="19.11" textLength="98.18" lengthAdjust="spacingAndGlyphs">气体检测仪</tspan><tspan x="900.50" y="207.02" font-size="17.37">n</tspan></text>
<text id="t_g2" font-weight="350" fill="#5B9BD5"><tspan x="1061.54" y="206.70" font-size="19.11" textLength="98.18" lengthAdjust="spacingAndGlyphs">气体检测仪</tspan><tspan x="1160.29" y="206.70" font-size="17.50">2</tspan></text>
<text id="t_g1" font-weight="350" fill="#5B9BD5"><tspan x="1249.34" y="206.70" font-size="19.11" textLength="98.18" lengthAdjust="spacingAndGlyphs">气体检测仪</tspan><tspan x="1348.62" y="207.02" font-size="18.22">1</tspan></text>
<text id="t_can" font-weight="350" fill="#41719C"><tspan x="982.25" y="607.97" font-size="17.89" textLength="35.83" lengthAdjust="spacingAndGlyphs">CAN</tspan><tspan x="1017.82" y="609.22" font-size="19.53" textLength="39.43" lengthAdjust="spacingAndGlyphs">总线</tspan></text>
<text id="t_dots" font-weight="400" fill="#4A90D9"><tspan x="990.79" y="289.92" font-size="27.00" textLength="20.46" lengthAdjust="spacingAndGlyphs">...</tspan></text>
</svg></body></html>
